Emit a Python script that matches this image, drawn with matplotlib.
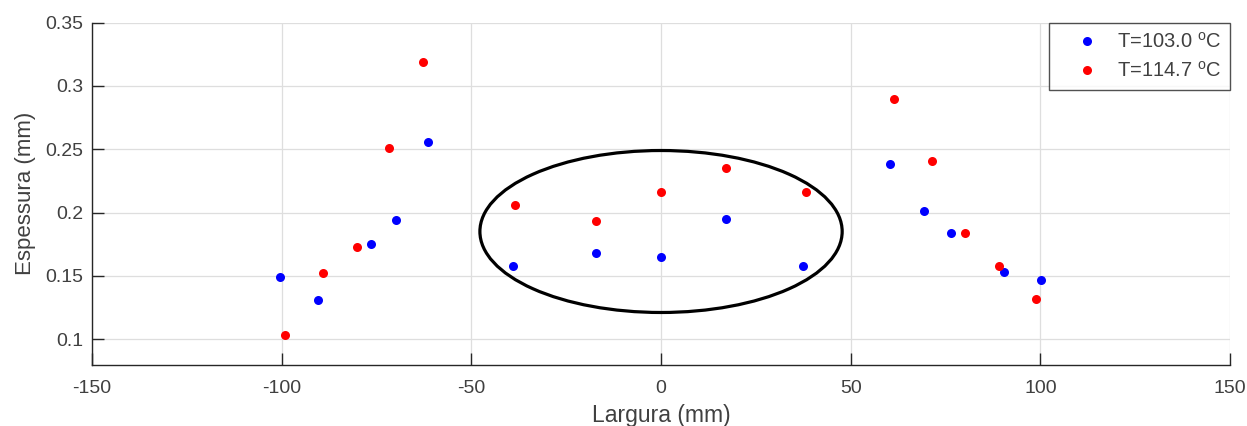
import matplotlib
matplotlib.use("Agg")
import matplotlib.pyplot as plt
from matplotlib.patches import Ellipse

# Thickness profiles across the width, two temperatures
largura_103 = [-100.4, -90.3, -76.5, -69.9, -61.4, -39.0, -17.2, 0.0, 17.0, 37.5,
               60.4, 69.4, 76.4, 90.3, 100.2]
espessura_103 = [0.149, 0.131, 0.175, 0.194, 0.256, 0.158, 0.168, 0.165, 0.195, 0.158,
                 0.238, 0.201, 0.184, 0.153, 0.147]

largura_114 = [-99.1, -89.2, -80.2, -71.6, -62.7, -38.4, -17.2, 0.0, 17.0, 38.2,
               61.4, 71.4, 80.0, 89.0, 98.9]
espessura_114 = [0.103, 0.152, 0.173, 0.251, 0.319, 0.206, 0.193, 0.216, 0.235, 0.216,
                 0.290, 0.241, 0.184, 0.158, 0.132]

labels = [r"T=103.0 $^{\mathrm{o}}$C", r"T=114.7 $^{\mathrm{o}}$C"]

# Highlighted central region
ellipse_center = (0.0, 0.185)
ellipse_width = 95.5
ellipse_height = 0.128

x_ticks = [-150, -100, -50, 0, 50, 100, 150]
y_ticks = [0.1, 0.15, 0.2, 0.25, 0.3, 0.35]
y_tick_labels = ["0.1", "0.15", "0.2", "0.25", "0.3", "0.35"]

plt.rcParams["font.family"] = ["Liberation Sans", "DejaVu Sans"]
plt.rcParams["axes.unicode_minus"] = False
plt.rcParams["mathtext.fontset"] = "custom"
plt.rcParams["mathtext.rm"] = "Liberation Sans"

text_color = "#404040"
axis_color = "#262626"

fig = plt.figure(figsize=(12.47, 4.26), dpi=100)
ax = fig.add_axes([0.0738, 0.1432, 0.9126, 0.8035])

ax.plot(largura_103, espessura_103, "o", color=(0, 0, 1), markersize=6.5,
        markeredgewidth=0, label=labels[0])
ax.plot(largura_114, espessura_114, "o", color=(1, 0, 0), markersize=6.5,
        markeredgewidth=0, label=labels[1])

ax.add_patch(Ellipse(ellipse_center, ellipse_width, ellipse_height,
                     fill=False, edgecolor="black", linewidth=2.3))

ax.set_xlim(-150, 150)
ax.set_ylim(0.0795, 0.35)
ax.set_xticks(x_ticks)
ax.set_yticks(y_ticks)
ax.set_yticklabels(y_tick_labels)

ax.grid(True, color="#dedede", linewidth=0.9)
ax.set_axisbelow(True)

for side in ("top", "right"):
    ax.spines[side].set_visible(False)
for side in ("left", "bottom"):
    ax.spines[side].set_color(axis_color)
    ax.spines[side].set_linewidth(1.0)

ax.tick_params(direction="in", length=8.5, width=1.0, color=axis_color,
               labelsize=14, labelcolor=text_color)
ax.tick_params(axis="y", pad=6)
ax.tick_params(axis="x", pad=11)

ax.set_xlabel("Largura (mm)", fontsize=16.5, color=text_color, labelpad=4.5)
ax.set_ylabel("Espessura (mm)", fontsize=16, color=text_color, labelpad=7)

leg = ax.legend(loc="upper right", fontsize=14.5, frameon=True, fancybox=False,
                borderaxespad=0.0, handlelength=2.9, handletextpad=0.0,
                labelcolor=text_color, borderpad=0.45, labelspacing=0.45)
leg.get_frame().set_edgecolor(axis_color)
leg.get_frame().set_linewidth(1.0)

fig.savefig("out.png", dpi=100)
